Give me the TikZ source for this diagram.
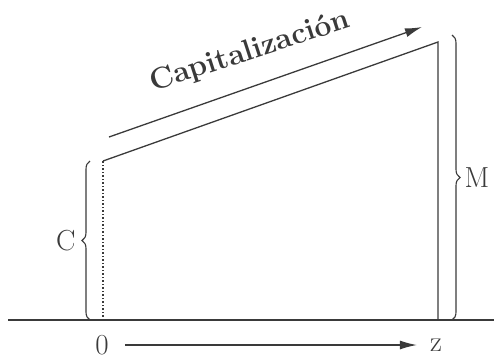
\documentclass[tikz,border=0pt]{standalone}
\usetikzlibrary{arrows.meta,decorations.pathreplacing}
\definecolor{Ink}{HTML}{3A3A3A}

\begin{document}
\begin{tikzpicture}[
  x=1pt, y=-1pt,
  line/.style={draw=Ink, line width=1.3pt},
  arrow/.style={-{Latex[length=17pt, width=9pt]}, line width=1.3pt, draw=Ink},
  brace/.style={decorate, decoration={brace, amplitude=8pt}, draw=Ink, line width=1.1pt},
  label/.style={text=Ink, font=\fontsize{29}{31}\selectfont, inner sep=0pt}
]
\useasboundingbox (0,0) rectangle (494,360);

% trapezoid corners
\coordinate (base) at (103,320);
\coordinate (top) at (103,161);
\coordinate (peak) at (438,42);
\coordinate (foot) at (438,320);
\coordinate (axisL) at (8,320);
\coordinate (axisR) at (494,320);
\coordinate (capL) at (109,137);
\coordinate (capR) at (422,27);

\draw[line] (axisL) -- (axisR);
\draw[line] (top) -- (peak) -- (foot);
\draw[draw=Ink, line width=1.5pt, dotted] (base) -- (top);

% capitalisation arrow
\draw[arrow] (capL) -- (capR);
\node[label, font=\fontsize{30}{32}\selectfont\bfseries, rotate=18] (cap) at (250,52) {Capitalización};

% braces
\draw[brace] (90,320) -- (90,161) node[midway, left=14pt, label] (capC) {C};
\draw[brace] (452,35) -- (452,320) node[midway, right=12pt, label] (capM) {M};

% time axis
\node[label] (zero) at (102,345) {0};
\node[label] (zed) at (436,345) {z};
\draw[arrow] ([xshift=16pt]zero.east) -- ([xshift=-13pt]zed.west);
\end{tikzpicture}
\end{document}
